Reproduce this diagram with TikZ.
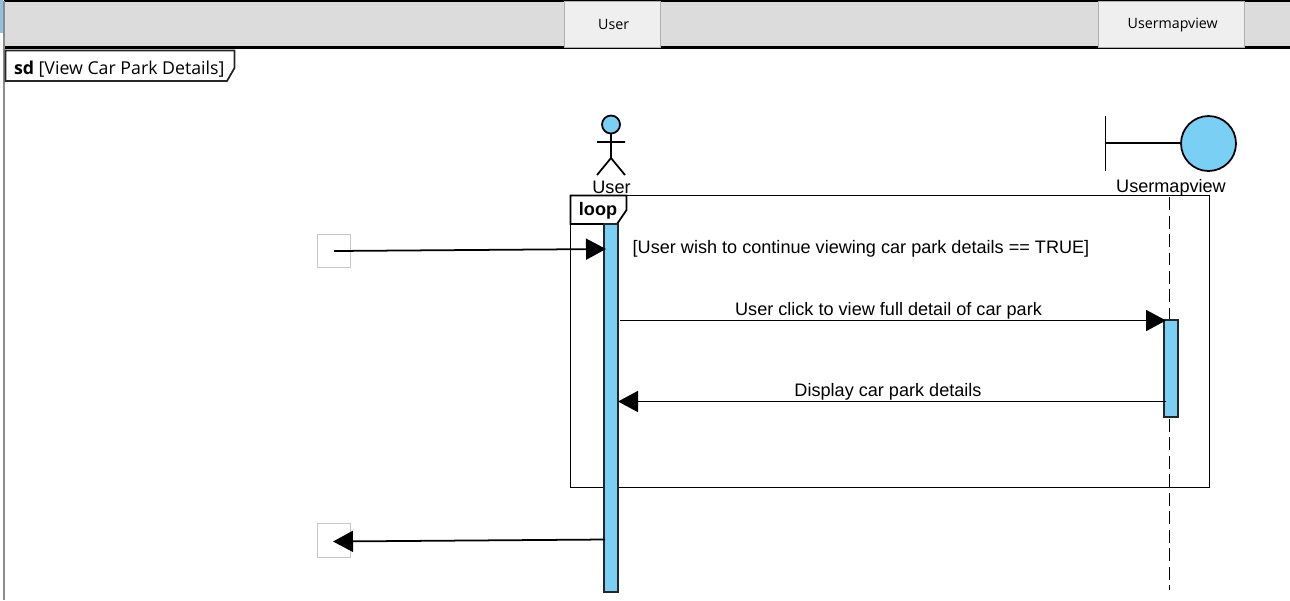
\documentclass[tikz,border=0pt]{standalone}
\usepackage{fontspec}
\setmainfont{Liberation Sans}
\newfontfamily\tabfont{Open Sans}
\usetikzlibrary{arrows.meta,positioning,calc}
\definecolor{lifeblue}{RGB}{122,207,245}
\definecolor{headgray}{RGB}{220,220,220}
\definecolor{tabgray}{RGB}{239,239,239}
\definecolor{tabline}{RGB}{175,175,175}
\definecolor{stripblue}{RGB}{150,190,225}
\tikzset{>={Triangle[length=0.4cm,width=0.42cm]}}
\tikzset{
  lbl/.style={font=\fontsize{10.3}{12}\selectfont,inner sep=0,outer sep=0},
  headtab/.style={draw=tabline,fill=tabgray,line width=0.8pt,inner sep=0,outer sep=0,
    minimum height=0.92cm,font=\tabfont\fontsize{8.1}{10}\selectfont},
  activation/.style={draw=black!85,fill=lifeblue,line width=0.9pt,minimum width=0.27cm,inner sep=0,outer sep=0},
  gatebox/.style={draw=black!22,line width=0.8pt,minimum size=0.67cm,inner sep=0,outer sep=0},
  msg/.style={->,line width=1pt},
  shape line/.style={line width=1pt},
}

\begin{document}
\begin{tikzpicture}[x=0.02cm,y=-0.02cm]
  \useasboundingbox (0,0) rectangle (1290,600);

  % Header
  \fill[stripblue] (0,0) rectangle (2.5,33);
  \fill[headgray] (4,1) rectangle (1290,47);
  \draw[line width=0.8pt] (4,1) -- (1290,1);
  \draw[line width=1.4pt] (4,47.5) -- (1290,47.5);
  \draw[black!45,line width=0.7pt] (4,1) -- (4,600);
  \node[headtab,minimum width=1.91cm] (tabUser) at (612.5,24.5) {\raisebox{-1pt}{\,User}};
  \node[headtab,minimum width=2.91cm] (tabView) at (1171.5,24.5) {\raisebox{-1pt}{\,Usermapview}};

  % Frame title
  \draw[black!85,fill=white,line width=1pt] (5.5,50.5) -- (234.5,50.5) -- (234.5,68) -- (227,81) -- (5.5,81) -- cycle;
  \node[lbl,anchor=base west,font=\tabfont\fontsize{10.1}{12}\selectfont] (sdTitle) at (14,74) {\textbf{sd} [View Car Park Details]};

  % Actor
  \draw[shape line,fill=lifeblue] (611,124.5) circle (9);
  \draw[shape line] (611,133.5) -- (611,158) (597,142) -- (625,142) (597,175) -- (611,158) -- (625,175);
  \node[lbl] (userLabel) at (611.5,187.5) {User};

  % Boundary
  \node[draw,fill=lifeblue,line width=1pt,circle,minimum size=1.1cm,inner sep=0,outer sep=0] (viewCircle) at (1208.5,143.5) {};
  \coordinate (viewBar) at (1105.5,143);
  \draw[shape line] (1105.5,116) -- (1105.5,171);
  \draw[shape line] (viewBar) -- (viewBar -| viewCircle.west);
  \node[lbl] (viewLabel) at (1171,187.5) {Usermapview};

  % Loop
  \draw[shape line] (570.5,195.5) rectangle (1209.5,487.5);
  \draw[shape line,fill=white] (570.5,195.5) -- (626.5,195.5) -- (626.5,210) -- (617,224) -- (570.5,224) -- cycle;
  \node[lbl,font=\bfseries\fontsize{10.3}{12}\selectfont] (loopLabel) at (598,210.5) {loop};

  % Lifeline
  \coordinate (lifeTop) at (1169.5,197);
  \coordinate (lifeEnd) at (1169.5,590);
  \draw[line width=1pt,dash pattern=on 0.26cm off 0.11cm] (lifeTop) -- (lifeEnd);

  % Activations
  \node[activation,minimum height=7.36cm] (barUser) at (611,408) {};
  \node[activation,minimum height=1.94cm] (barView) at (1171,368.5) {};

  % Gates
  \node[gatebox] (gateIn) at (334,251) {};
  \node[gatebox] (gateOut) at (334,540.5) {};

  % Messages
  \coordinate (inEnd) at (606,249);
  \coordinate (outStart) at (605,539.5);
  \coordinate (outEnd) at (333,541.5);
  \coordinate (clickStart) at (620,320.5);
  \coordinate (clickEnd) at (1166,320.5);
  \coordinate (showStart) at (1166,401.5);
  \coordinate (showEnd) at (618,401.5);
  \draw[msg] (gateIn.center) -- (inEnd);
  \draw[msg] (clickStart) -- (clickEnd);
  \draw[msg] (showStart) -- (showEnd);
  \draw[msg] (outStart) -- (outEnd);

  % Labels
  \node[lbl] (guardLabel) at (861,248.5) {[User wish to continue viewing car park details == TRUE]};
  \node[lbl] (clickLabel) at (888.5,310.5) {User click to view full detail of car park};
  \node[lbl] (showLabel) at (888,391.5) {Display car park details};
\end{tikzpicture}
\end{document}
